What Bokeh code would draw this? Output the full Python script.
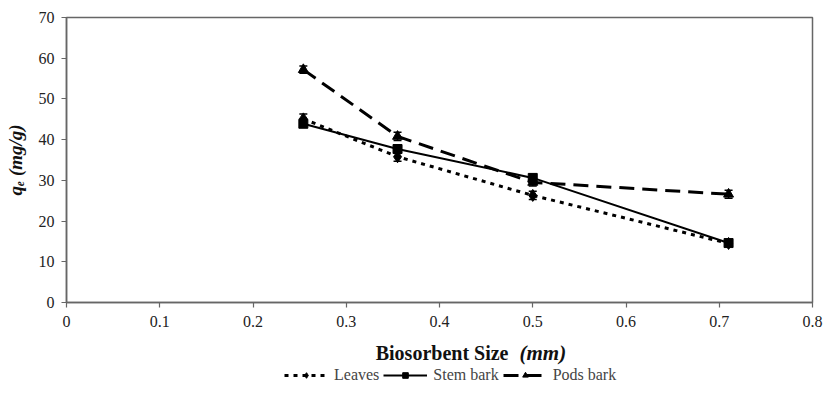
from bokeh.plotting import figure
from bokeh.layouts import column
from bokeh.models import (ColumnDataSource, Whisker, TeeHead, Legend, LegendItem,
                          FixedTicker, Label)
from bokeh.embed import file_html
from bokeh.resources import INLINE

size_mm = [0.254, 0.355, 0.5, 0.71]
leaves = [45.1, 35.8, 26.3, 14.5]
leaves_err = [1.2, 1.1, 1.0, 0.6]
stem_bark = [43.9, 37.7, 30.6, 14.6]
stem_err = [0.8, 1.0, 0.9, 0.6]
pods_bark = [57.2, 40.8, 29.5, 26.6]
pods_err = [0.9, 1.0, 0.9, 1.0]

y_ticks = [0, 10, 20, 30, 40, 50, 60, 70]
x_ticks = [0, 0.1, 0.2, 0.3, 0.4, 0.5, 0.6, 0.7, 0.8]
series_names = ["Leaves", "Stem bark", "Pods bark"]

FONT = "Liberation Serif"
W = 824
LEFT = 66

p = figure(width=W, height=334, output_backend="svg", toolbar_location=None,
           x_range=(0, 0.8), y_range=(0, 70),
           min_border_left=LEFT, min_border_right=12, min_border_top=17, min_border_bottom=32)
p.xgrid.visible = False
p.ygrid.visible = False
p.outline_line_color = "#666666"
p.outline_line_width = 1.5
p.outline_line_alpha = 1.0

for ax in (p.xaxis[0], p.yaxis[0]):
    ax.major_tick_in = 0
    ax.major_tick_out = 5
    ax.minor_tick_line_color = None
    ax.axis_line_color = "#666666"
    ax.axis_line_width = 1.5
    ax.major_tick_line_color = "#666666"
    ax.major_tick_line_width = 1.2
    ax.major_label_text_font = FONT
    ax.major_label_text_font_size = "16px"
    ax.major_label_text_color = "#222222"
    ax.major_label_standoff = 8

p.xaxis.ticker = FixedTicker(ticks=x_ticks)
p.xaxis.major_label_overrides = {0: "0"}
p.yaxis.ticker = FixedTicker(ticks=y_ticks)
p.yaxis.major_label_standoff = 7
p.yaxis.axis_label = "qₑ (mg/g)"
p.yaxis.axis_label_text_font = FONT
p.yaxis.axis_label_text_font_style = "bold italic"
p.yaxis.axis_label_text_font_size = "19px"
p.yaxis.axis_label_standoff = 10
p.yaxis.axis_label_text_color = "#111111"

styles = [("4 5", "diamond", 12, 3), ("solid", "square", 9, 2), ("15 8", "triangle", 10, 3)]

def add_series(vals, errs, dash, marker, msize, lw):
    src = ColumnDataSource(dict(x=size_mm, y=vals,
                                lo=[v - e for v, e in zip(vals, errs)],
                                hi=[v + e for v, e in zip(vals, errs)]))
    w = Whisker(source=src, base="x", lower="lo", upper="hi", line_color="black",
                line_width=1.5,
                lower_head=TeeHead(size=8, line_color="black", line_width=1.5),
                upper_head=TeeHead(size=8, line_color="black", line_width=1.5))
    p.add_layout(w)
    p.line("x", "y", source=src, line_color="black", line_width=lw, line_dash=dash)
    p.scatter("x", "y", source=src, marker=marker, size=msize,
              fill_color="black", line_color="black")

for vals, errs, st in zip([leaves, stem_bark, pods_bark],
                          [leaves_err, stem_err, pods_err], styles):
    add_series(vals, errs, *st)

# lower strip: axis title and legend (frame aligned with the main plot's frame)
H2 = 50
p2 = figure(width=W, height=H2, output_backend="svg", toolbar_location=None,
            x_range=(0, 1), y_range=(0, 1),
            x_axis_location=None, y_axis_location=None,
            min_border_left=LEFT, min_border_right=12, min_border_top=0, min_border_bottom=0)
p2.grid.visible = False
p2.outline_line_color = None

items = []
for name, (dash, marker, msize, lw) in zip(series_names, styles):
    rl = p2.line(x=[-5, -4], y=[-5, -5], line_color="black", line_width=lw, line_dash=dash)
    rs = p2.scatter(x=[-4.5], y=[-5], marker=marker, size=msize - 2,
                    fill_color="black", line_color="black")
    items.append(LegendItem(label=name, renderers=[rl, rs]))

legend = Legend(items=items, orientation="horizontal", location=(218, 0),
                label_text_font=FONT, label_text_font_size="16px",
                glyph_width=44, glyph_height=14, spacing=4, label_standoff=6,
                border_line_color=None, background_fill_alpha=0, padding=0, margin=0)
p2.add_layout(legend, "center")

p2.add_layout(Label(x=442, y=32, x_units="screen", y_units="screen",
                    text="Biosorbent Size", text_font=FONT,
                    text_font_style="bold", text_font_size="20px", text_align="right",
                    text_baseline="middle", text_color="#111111"))
p2.add_layout(Label(x=453, y=32, x_units="screen", y_units="screen",
                    text="(mm)", text_font=FONT,
                    text_font_style="bold italic", text_font_size="21px", text_align="left",
                    text_baseline="middle", text_color="#111111"))

layout = column(p, p2, spacing=0)
open("out.html", "w").write(file_html(layout, INLINE))
